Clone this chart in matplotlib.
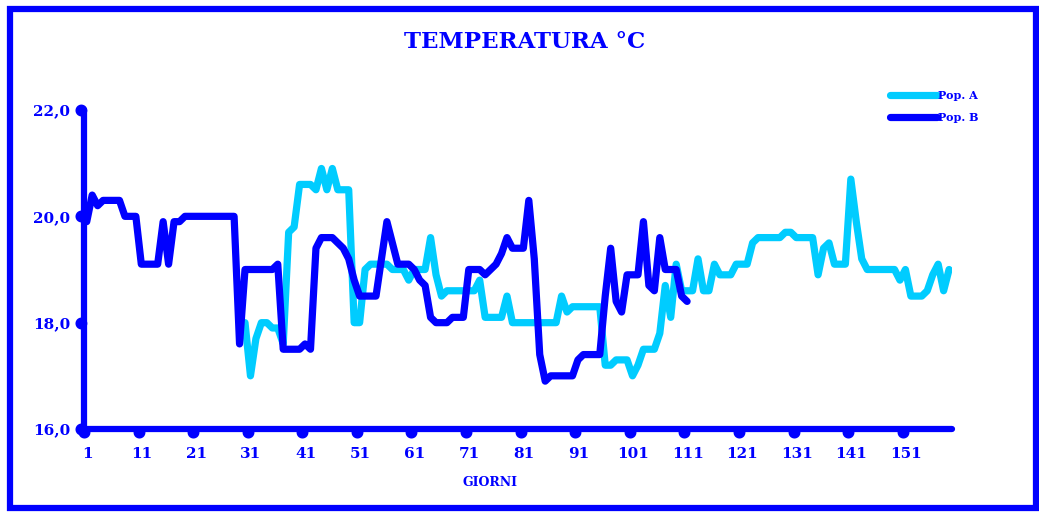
import matplotlib
matplotlib.use("Agg")
import matplotlib.pyplot as plt
from matplotlib.patches import Rectangle
from matplotlib.path import Path
from matplotlib.ticker import FuncFormatter, FixedLocator
import numpy as np


# Pop. B: giorni 1..111
POP_B_START = 1
POP_B = [
    19.9, 20.4, 20.2, 20.3, 20.3, 20.3, 20.3, 20.0, 20.0, 20.0,
    19.1, 19.1, 19.1, 19.1, 19.9, 19.1, 19.9, 19.9, 20.0, 20.0,
    20.0, 20.0, 20.0, 20.0, 20.0, 20.0, 20.0, 20.0, 17.6, 19.0,
    19.0, 19.0, 19.0, 19.0, 19.0, 19.1, 17.5, 17.5, 17.5, 17.5,
    17.6, 17.5, 19.4, 19.6, 19.6, 19.6, 19.5, 19.4, 19.2, 18.8,
    18.5, 18.5, 18.5, 18.5, 19.2, 19.9, 19.5, 19.1, 19.1, 19.1,
    19.0, 18.8, 18.7, 18.1, 18.0, 18.0, 18.0, 18.1, 18.1, 18.1,
    19.0, 19.0, 19.0, 18.9, 19.0, 19.1, 19.3, 19.6, 19.4, 19.4,
    19.4, 20.3, 19.2, 17.4, 16.9, 17.0, 17.0, 17.0, 17.0, 17.0,
    17.3, 17.4, 17.4, 17.4, 17.4, 18.5, 19.4, 18.4, 18.2, 18.9,
    18.9, 18.9, 19.9, 18.7, 18.6, 19.6, 19.0, 19.0, 19.0, 18.5,
    18.4,
]

# Pop. A: giorni 30..159
POP_A_START = 30
POP_A = [
    18.0, 17.0, 17.7, 18.0, 18.0, 17.9, 17.9, 17.6, 19.7, 19.8,
    20.6, 20.6, 20.6, 20.5, 20.9, 20.5, 20.9, 20.5, 20.5, 20.5,
    18.0, 18.0, 19.0, 19.1, 19.1, 19.1, 19.1, 19.0, 19.0, 19.0,
    18.8, 19.0, 19.0, 19.0, 19.6, 18.9, 18.5, 18.6, 18.6, 18.6,
    18.6, 18.6, 18.6, 18.8, 18.1, 18.1, 18.1, 18.1, 18.5, 18.0,
    18.0, 18.0, 18.0, 18.0, 18.0, 18.0, 18.0, 18.0, 18.5, 18.2,
    18.3, 18.3, 18.3, 18.3, 18.3, 18.3, 17.2, 17.2, 17.3, 17.3,
    17.3, 17.0, 17.2, 17.5, 17.5, 17.5, 17.8, 18.7, 18.1, 19.1,
    18.6, 18.6, 18.6, 19.2, 18.6, 18.6, 19.1, 18.9, 18.9, 18.9,
    19.1, 19.1, 19.1, 19.5, 19.6, 19.6, 19.6, 19.6, 19.6, 19.7,
    19.7, 19.6, 19.6, 19.6, 19.6, 18.9, 19.4, 19.5, 19.1, 19.1,
    19.1, 20.7, 19.9, 19.2, 19.0, 19.0, 19.0, 19.0, 19.0, 19.0,
    18.8, 19.0, 18.5, 18.5, 18.5, 18.6, 18.9, 19.1, 18.6, 19.0,
]

N_DAYS = 159
X_TICK_LABELS = [str(d) for d in range(1, 152, 10)]
Y_TICKS = [16.0, 18.0, 20.0, 22.0]

BLUE = "#0000FF"
CYAN = "#00CCFF"
FONT = "DejaVu Serif"


def dot_marker(dx, dy):
    # pallino spostato fuori dall'asse (il marker viene normalizzato)
    return Path.circle(center=(dx, dy), radius=0.8)


def main():
    fig = plt.figure(figsize=(10.39, 5.12), dpi=100)
    fig.patch.set_facecolor("white")
    ax = fig.add_axes([84 / 1039, 83 / 512, (951.8 - 84) / 1039, 319 / 512])

    days_a = np.arange(POP_A_START, POP_A_START + len(POP_A))
    days_b = np.arange(POP_B_START, POP_B_START + len(POP_B))

    line_kw = dict(linewidth=5.2, solid_joinstyle="round", solid_capstyle="round")
    ax.plot(days_a, POP_A, color=CYAN, label="Pop. A", zorder=3, **line_kw)
    ax.plot(days_b, POP_B, color=BLUE, label="Pop. B", zorder=4, **line_kw)

    ax.set_xlim(0.5, N_DAYS + 0.5)
    ax.set_ylim(16, 22)

    # categorie tra i segni di graduazione
    tick_pos = [int(s) - 0.5 for s in X_TICK_LABELS]
    ax.xaxis.set_major_locator(FixedLocator(tick_pos))
    ax.set_xticklabels([])
    for pos, lab in zip(tick_pos, X_TICK_LABELS):
        ax.text(pos + 0.6, -0.055, lab, transform=ax.get_xaxis_transform(),
                ha="center", va="top", color=BLUE, fontsize=11,
                fontweight="bold", family=FONT)

    ax.set_yticks(Y_TICKS)
    ax.yaxis.set_major_formatter(
        FuncFormatter(lambda v, p: "{:.1f}".format(v).replace(".", ",")))
    ax.tick_params(axis="y", colors=BLUE, length=4, width=5, pad=6,
                   labelsize=11)
    ax.tick_params(axis="x", colors=BLUE, length=4, width=5)
    for lab in ax.get_yticklabels():
        lab.set_fontweight("bold")
        lab.set_family(FONT)
    for tl in ax.xaxis.get_ticklines():
        tl.set_marker(dot_marker(0, -1.0))
        tl.set_markersize(8)
    for tl in ax.yaxis.get_ticklines():
        tl.set_marker(dot_marker(-1.0, 0))
        tl.set_markersize(8)

    for side in ("top", "right"):
        ax.spines[side].set_visible(False)
    for side in ("left", "bottom"):
        ax.spines[side].set_color(BLUE)
        ax.spines[side].set_linewidth(4.5)
        ax.spines[side].set_capstyle("round")

    fig.text(525 / 1039, 1 - 42 / 512, "TEMPERATURA \u00b0C", ha="center",
             va="center", color=BLUE, fontsize=16.5, fontweight="bold",
             family=FONT)
    fig.text(490 / 1039, 1 - 483 / 512, "GIORNI", ha="center", va="center",
             color=BLUE, fontsize=9, fontweight="bold", family=FONT)

    leg = ax.legend(loc="upper left", bbox_to_anchor=(884 / 1039, 1 - 84 / 512),
                    bbox_transform=fig.transFigure, frameon=False,
                    handlelength=4.3, handletextpad=0.05, labelspacing=1.05,
                    borderpad=0, prop={"family": FONT, "weight": "bold",
                                       "size": 8})
    for t in leg.get_texts():
        t.set_color(BLUE)

    frame = Rectangle((10 / 1039, 4 / 512), 1026 / 1039, 499.5 / 512,
                      transform=fig.transFigure, fill=False, edgecolor=BLUE,
                      linewidth=4.5, clip_on=False)
    fig.patches.append(frame)

    fig.savefig("out.png", dpi=100)
    plt.close(fig)


if __name__ == "__main__":
    main()
